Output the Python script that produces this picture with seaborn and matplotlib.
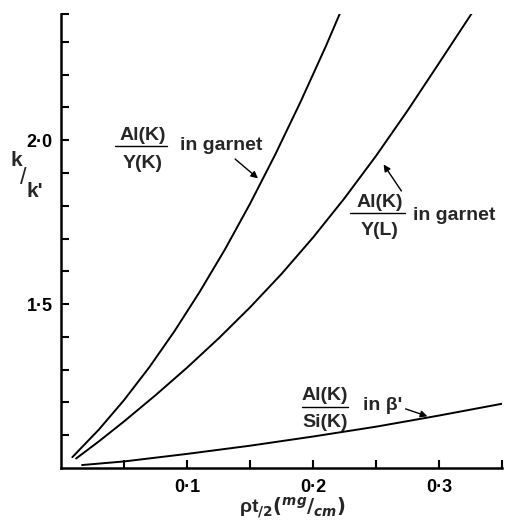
import numpy as np
import pandas as pd
import matplotlib
matplotlib.use("Agg")
import matplotlib.pyplot as plt
import seaborn as sns
from matplotlib.lines import Line2D

# Données (valeurs estimées, lissées à l'oeil)
x_alk_yk = [0.009, 0.03, 0.05, 0.07, 0.09, 0.11, 0.13, 0.15, 0.17, 0.19, 0.21, 0.2214]
y_alk_yk = [1.033, 1.117, 1.207, 1.307, 1.417, 1.537, 1.666, 1.806, 1.956, 2.116, 2.285, 2.387]

x_alk_yl = [0.012, 0.03, 0.05, 0.075, 0.10, 0.125, 0.15, 0.175, 0.20, 0.225, 0.25, 0.275, 0.30, 0.3265]
y_alk_yl = [1.029, 1.081, 1.142, 1.222, 1.306, 1.395, 1.490, 1.592, 1.703, 1.823, 1.952, 2.090, 2.235, 2.390]

x_alk_sik = [0.0167, 0.05, 0.10, 0.15, 0.20, 0.25, 0.30, 0.35]
y_alk_sik = [1.009, 1.020, 1.043, 1.068, 1.096, 1.126, 1.160, 1.196]

x_ticks = [0.05, 0.10, 0.15, 0.20, 0.25, 0.30, 0.35]
x_tick_labels = ["", "0·1", "", "0·2", "", "0·3", ""]
y_ticks = [1.1, 1.2, 1.3, 1.4, 1.5, 1.6, 1.7, 1.8, 1.9, 2.0, 2.1, 2.2, 2.3, 2.385]
y_tick_labels = ["", "", "", "", "1·5", "", "", "", "", "2·0", "", "", "", ""]

sns.set_style("white")
plt.rcParams['font.family'] = ['Liberation Sans', 'DejaVu Sans']
plt.rcParams['font.weight'] = 'bold'

fig = plt.figure(figsize=(5.05, 5.24), dpi=100)
ax = fig.add_axes([61 / 505, 56 / 524, 441 / 505, 454 / 524])

for xs, ys in [(x_alk_yk, y_alk_yk), (x_alk_yl, y_alk_yl), (x_alk_sik, y_alk_sik)]:
    df = pd.DataFrame({"x": xs, "y": ys})
    sns.lineplot(data=df, x="x", y="y", ax=ax, color="black", linewidth=1.4,
                 sort=False, estimator=None)

ax.set_xlim(0, 0.35)
ax.set_ylim(1.0, 2.385)
ax.set_xticks(x_ticks)
ax.set_xticklabels(x_tick_labels)
ax.set_yticks(y_ticks)
ax.set_yticklabels(y_tick_labels)
ax.set_xlabel("")
ax.set_ylabel("")
ax.tick_params(axis="both", direction="in", length=5.5, width=1.5, labelsize=13,
               colors="black", pad=6, bottom=True, left=True)
ax.tick_params(axis="x", pad=8)
for s in ["top", "right"]:
    ax.spines[s].set_visible(False)
for s in ["left", "bottom"]:
    ax.spines[s].set_linewidth(1.8)
    ax.spines[s].set_color("black")
for lab in ax.get_xticklabels() + ax.get_yticklabels():
    lab.set_fontweight("bold")

# Étiquette de l'axe y : k/k'
fig.text(16 / 505, 1 - 161 / 524, "k", fontsize=15, fontweight="bold", ha="center", va="center")
fig.text(23 / 505, 1 - 178 / 524, "/", fontsize=17, fontweight="normal", ha="center", va="center")
fig.text(35 / 505, 1 - 192 / 524, "k'", fontsize=15, fontweight="bold", ha="center", va="center")

# Étiquette de l'axe x
fig.text(292 / 505, 1 - 508 / 524, "ρt" + r"$_{/\mathbf{2}}\left(^{mg}/_{cm}\right)$",
         fontsize=14, fontweight="bold", ha="center", va="center")

# Annotations en fraction
def fraction(num, den, xc, y_num, y_bar, y_den, x0, x1, right_text, x_txt, y_txt, arrow_from, arrow_to):
    kw = dict(fontsize=14, fontweight="bold", ha="center", va="center")
    ax.text(xc, y_num, num, **kw)
    ax.text(xc, y_den, den, **kw)
    ax.add_line(Line2D([x0, x1], [y_bar, y_bar], color="black", linewidth=1.0))
    ax.text(x_txt, y_txt, right_text, fontsize=14, fontweight="bold", ha="left", va="center")
    ax.annotate("", xy=arrow_to, xytext=arrow_from,
                arrowprops=dict(arrowstyle="-|>", color="black", lw=1.0, mutation_scale=10))

fraction("Al(K)", "Y(K)", 0.0645, 2.015, 1.982, 1.930, 0.043, 0.084,
         "in garnet", 0.0944, 1.985, (0.1365, 1.948), (0.158, 1.878))
fraction("Al(K)", "Y(L)", 0.253, 1.811, 1.777, 1.726, 0.229, 0.273,
         "in garnet", 0.2794, 1.771, (0.2714, 1.838), (0.2548, 1.933))
fraction("Al(K)", "Si(K)", 0.2095, 1.2226, 1.186, 1.140, 0.191, 0.228,
         "in β'", 0.2397, 1.192, (0.2714, 1.183), (0.2929, 1.155))

fig.savefig("out.png", dpi=100)
